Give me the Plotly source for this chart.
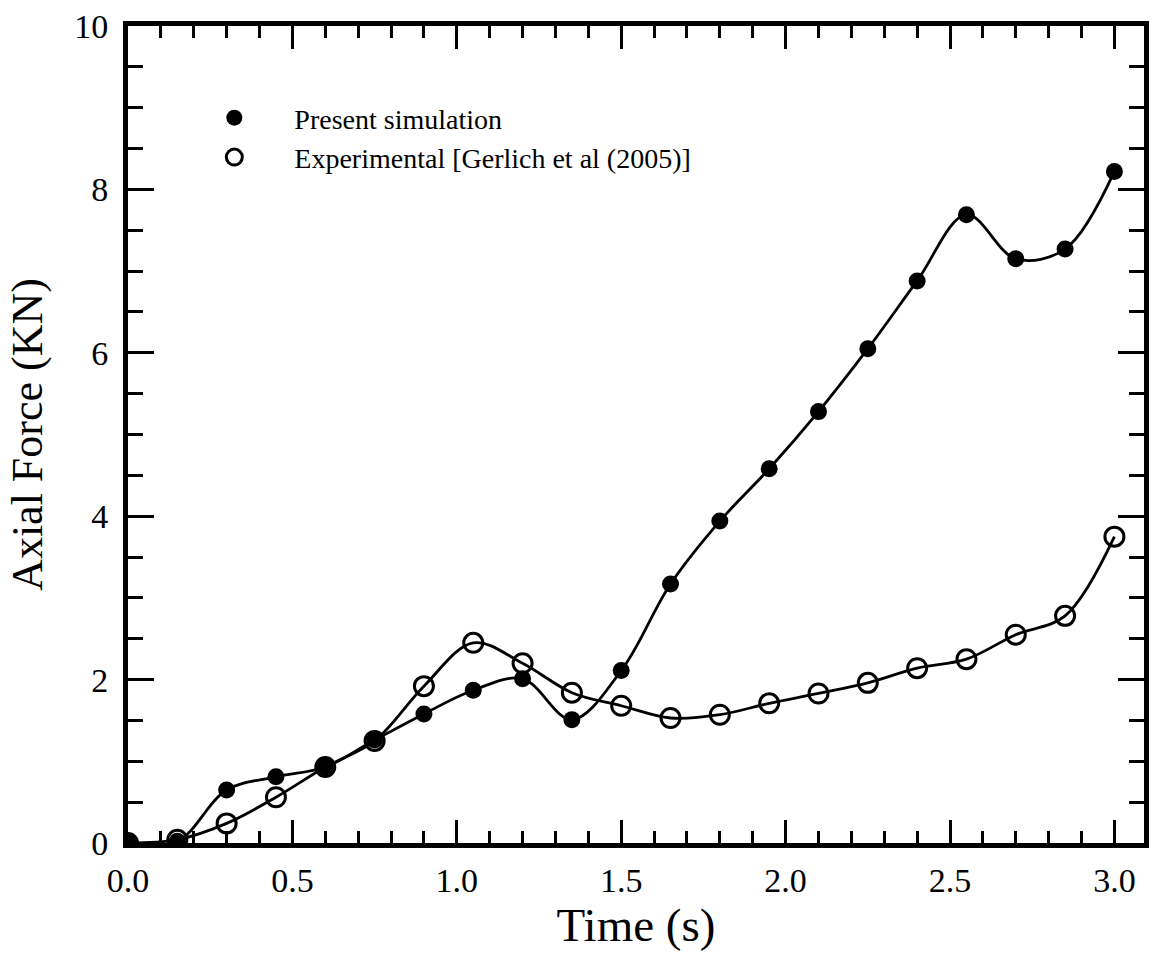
import plotly.graph_objects as go

time_s = [0.0, 0.15, 0.3, 0.45, 0.6, 0.75, 0.9, 1.05, 1.2, 1.35, 1.5, 1.65, 1.8,
          1.95, 2.1, 2.25, 2.4, 2.55, 2.7, 2.85, 3.0]
present_sim = [0.0, 0.02, 0.65, 0.81, 0.93, 1.26, 1.58, 1.87, 2.01, 1.51, 2.11, 3.17,
               3.94, 4.58, 5.28, 6.05, 6.88, 7.69, 7.15, 7.27, 8.22]
experimental = [0.0, 0.04, 0.24, 0.56, 0.93, 1.25, 1.92, 2.45, 2.20, 1.84, 1.68, 1.53,
                1.57, 1.71, 1.83, 1.96, 2.14, 2.25, 2.55, 2.78, 3.75]

name_sim = "Present simulation"
name_exp = "Experimental [Gerlich et al (2005)]"

FONT = "Liberation Serif, Times New Roman, serif"

fig = go.Figure()

fig.add_trace(go.Scatter(
    x=time_s, y=experimental, mode="lines+markers", showlegend=False,
    line=dict(color="black", width=2.8, shape="spline", smoothing=1.0),
    marker=dict(symbol="circle-open", size=19, color="black", line=dict(width=3, color="black")),
))
fig.add_trace(go.Scatter(
    x=time_s, y=present_sim, mode="lines+markers", showlegend=False,
    line=dict(color="black", width=2.8, shape="spline", smoothing=1.0),
    marker=dict(symbol="circle", size=17, color="black"),
))
# legend-only entries (markers only)
fig.add_trace(go.Scatter(
    x=[None], y=[None], mode="markers", name=name_sim,
    marker=dict(symbol="circle", size=17, color="black"),
))
fig.add_trace(go.Scatter(
    x=[None], y=[None], mode="markers", name=name_exp,
    marker=dict(symbol="circle-open", size=16, color="black", line=dict(width=3, color="black")),
))

axis_common = dict(
    showline=True, linewidth=5, linecolor="black", mirror="allticks",
    ticks="inside", tickwidth=2.5, tickcolor="black",
    showgrid=False, zeroline=False,
    tickfont=dict(family=FONT, size=34, color="black"),
)

fig.update_xaxes(
    range=[0.0, 3.09], tick0=0, dtick=0.5, ticklen=23, tickformat=".1f",
    minor=dict(dtick=0.1, ticks="inside", ticklen=12, tickwidth=2.5, tickcolor="black"),
    title=dict(text="Time (s)", font=dict(family=FONT, size=47, color="black"), standoff=8),
    ticklabelstandoff=3,
    **axis_common,
)
fig.update_yaxes(
    range=[0, 10], tick0=0, dtick=2, ticklen=26,
    minor=dict(dtick=0.5, ticks="inside", ticklen=15, tickwidth=2.5, tickcolor="black"),
    title=dict(text="Axial Force (KN)", font=dict(family=FONT, size=44, color="black"), standoff=19),
    ticklabelstandoff=8,
    **axis_common,
)

fig.update_layout(
    width=1156, height=953,
    margin=dict(l=128, r=7, t=26, b=110),
    paper_bgcolor="white", plot_bgcolor="white",
    font=dict(family=FONT, color="black"),
    legend=dict(
        x=0.0456, y=0.918, xanchor="left", yanchor="top",
        font=dict(family=FONT, size=28, color="black"),
        bgcolor="rgba(0,0,0,0)", borderwidth=0,
        itemwidth=110, tracegroupgap=0,
    ),
)

fig.write_html("out.html")
